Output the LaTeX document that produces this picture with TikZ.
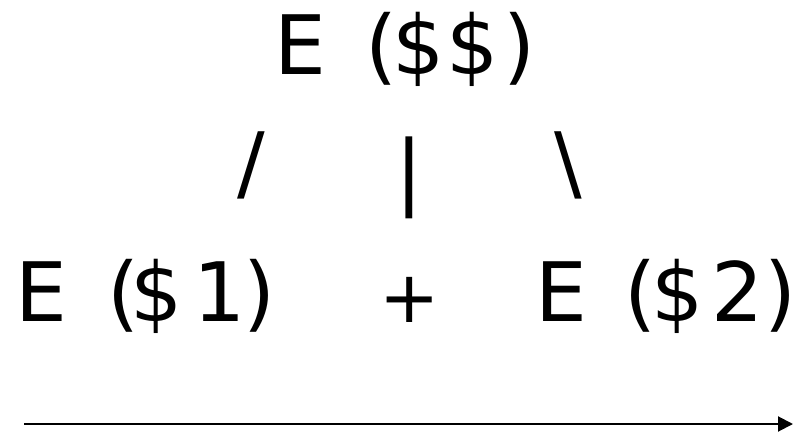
\documentclass[tikz,border=0pt]{standalone}
\usepackage{fontspec}
\setmainfont{DejaVu Sans}
\usetikzlibrary{arrows.meta}
\begin{document}
\begin{tikzpicture}[x=1pt,y=-1pt,
  lbl/.style={inner sep=0pt, font=\fontsize{82}{96}\selectfont},
  flow/.style={line width=2pt, -{Triangle[length=15pt,width=15pt]}}]
\useasboundingbox (0,0) rectangle (801,433);
\node[lbl, anchor=base west] (top) at (274.7,75)
  {E\kern12.4pt{} (\kern-5.1pt\$\kern2.3pt\$\kern4.9pt)};
\node[lbl, anchor=base] (sl) at (251,192) {/};
\node[lbl, anchor=base] (bar) at (409.5,200) {|};
\node[lbl, anchor=base] (bs) at (568.5,192) {\textbackslash};
\node[lbl, anchor=base west] (e1) at (14.9,321)
  {E\kern14.2pt{} (\kern-8.6pt\$\kern10.9pt1\kern-2.2pt)};
\node[lbl, font=\fontsize{72}{80}\selectfont, anchor=base] (plus) at (409.5,322) {+};
\node[lbl, anchor=base west] (e2) at (535.2,321)
  {E\kern11.4pt{} (\kern-5.1pt\$\kern7.4pt2\kern0.8pt)};
\coordinate (a0) at (24,424);
\coordinate (a1) at (793,424);
\draw[flow] (a0) -- (a1);
\end{tikzpicture}
\end{document}
